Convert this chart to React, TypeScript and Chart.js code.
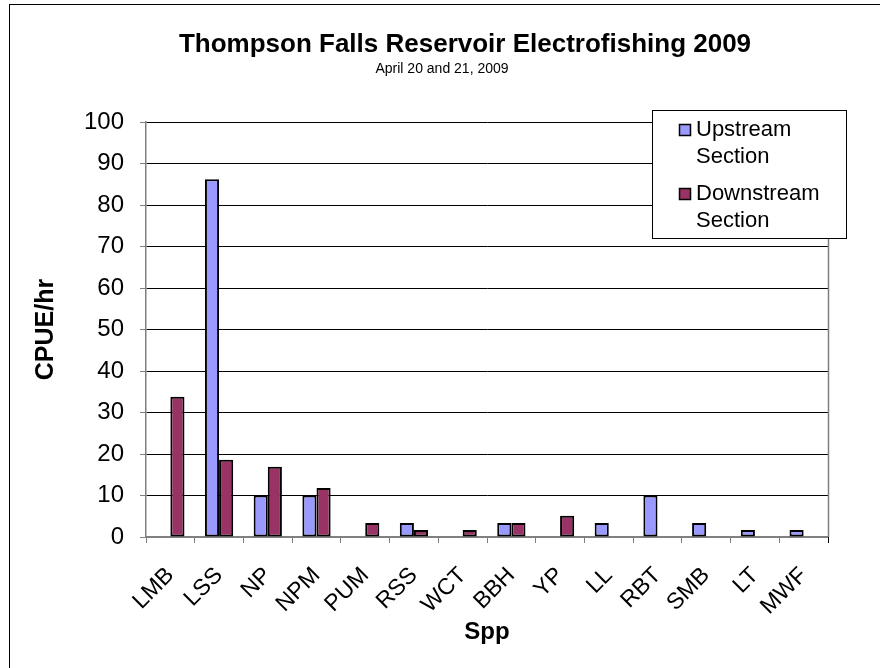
import React, { useEffect, useRef } from "react";
import { Chart, registerables } from "chart.js";

Chart.register(...registerables);

const categories = ["LMB", "LSS", "NP", "NPM", "PUM", "RSS", "WCT", "BBH", "YP", "LL", "RBT", "SMB", "LT", "MWF"];
const upstream = [0, 86.2, 10, 10, 0, 3.4, 0, 3.4, 0, 3.4, 10, 3.4, 1.7, 1.7];
const downstream = [33.8, 18.6, 16.9, 11.8, 3.4, 1.7, 1.7, 3.4, 5.1, 0, 0, 0, 0, 0];
const seriesNames = [["Upstream", "Section"], ["Downstream", "Section"]];
const titleText = "Thompson Falls Reservoir Electrofishing 2009";
const subtitleText = "April 20 and 21, 2009";
const yTitle = "CPUE/hr";
const xTitle = "Spp";

const FONT = "Arial, 'Liberation Sans', sans-serif";

const extrasPlugin = {
  id: "extras",
  afterDraw(chart: any) {
    const { ctx, chartArea } = chart;
    ctx.save();
    // titles
    ctx.fillStyle = "#000";
    ctx.textAlign = "center";
    ctx.textBaseline = "middle";
    ctx.font = "bold 26px " + FONT;
    ctx.fillText(titleText, 465, 45);
    ctx.font = "14px " + FONT;
    ctx.fillText(subtitleText, 442, 69);

    // right border of plot area
    ctx.strokeStyle = "#808080";
    ctx.lineWidth = 1.5;
    ctx.beginPath();
    ctx.moveTo(chartArea.right + 0.5, chartArea.top);
    ctx.lineTo(chartArea.right + 0.5, chartArea.bottom);
    ctx.stroke();
    ctx.strokeStyle = "#000";
    ctx.lineWidth = 1;
    ctx.beginPath();
    ctx.moveTo(chartArea.right + 0.5, chartArea.bottom);
    ctx.lineTo(chartArea.right + 0.5, chartArea.bottom + 6);
    ctx.stroke();

    // legend box
    const bx = 652, by = 110, bw = 194, bh = 128;
    ctx.fillStyle = "#fff";
    ctx.fillRect(bx, by, bw, bh);
    ctx.strokeStyle = "#000";
    ctx.lineWidth = 1;
    ctx.strokeRect(bx + 0.5, by + 0.5, bw, bh);
    ctx.font = "22px " + FONT;
    ctx.textBaseline = "middle";
    ctx.textAlign = "left";
    const itemY = [130, 194];
    chart.data.datasets.forEach((ds: any, i: number) => {
      const y0 = itemY[i];
      ctx.fillStyle = ds.backgroundColor;
      ctx.fillRect(679.5, y0 - 5.5, 11, 11);
      ctx.strokeStyle = "#000";
      ctx.lineWidth = 1.5;
      ctx.strokeRect(679.5, y0 - 5.5, 11, 11);
      ctx.fillStyle = "#000";
      const lines = seriesNames[i];
      lines.forEach((ln: string, j: number) => {
        ctx.fillText(ln, 696, y0 + j * 27);
      });
    });
    ctx.restore();
  },
};

export default function App() {
  const ref = useRef<HTMLCanvasElement>(null);
  useEffect(() => {
    if (!ref.current) return;
    const chart = new Chart(ref.current, {
      type: "bar",
      data: {
        labels: categories,
        datasets: [
          {
            label: seriesNames[0].join(" "),
            data: upstream,
            backgroundColor: "#9999FF",
            borderColor: "#000",
            borderWidth: 2,
            borderSkipped: false,
            categoryPercentage: 0.58,
            barPercentage: 1,
          },
          {
            label: seriesNames[1].join(" "),
            data: downstream,
            backgroundColor: "#993366",
            borderColor: "#000",
            borderWidth: 2,
            borderSkipped: false,
            categoryPercentage: 0.58,
            barPercentage: 1,
          },
        ],
      },
      options: {
        responsive: false,
        animation: false,
        layout: { padding: { left: 0, right: 52, top: 122, bottom: 0 } },
        plugins: {
          legend: { display: false },
          tooltip: { enabled: false },
          title: { display: false },
          subtitle: { display: false },
        },
        scales: {
          x: {
            offset: true,
            grid: {
              offset: true,
              drawOnChartArea: false,
              drawTicks: true,
              tickLength: 6,
              tickColor: "#808080",
            },
            border: { display: true, color: "#808080", width: 1.5 },
            ticks: {
              color: "#000",
              font: { family: FONT, size: 23 },
              minRotation: 45,
              maxRotation: 45,
              autoSkip: false,
              padding: 19,
            },
            title: {
              display: true,
              text: xTitle,
              color: "#000",
              font: { family: FONT, size: 24, weight: "bold" },
              padding: { top: 0, bottom: 21 },
            },
            afterFit: (s: any) => {
              s.height = 131;
            },
          },
          y: {
            min: 0,
            max: 100,
            ticks: {
              stepSize: 10,
              color: "#000",
              font: { family: FONT, size: 24 },
              padding: 16,
            },
            grid: {
              color: (c: any) => (c.tick && c.tick.value === 0 ? "#808080" : "#000"),
              lineWidth: 1,
              tickLength: 6,
              tickColor: "#808080",
            },
            border: { display: true, color: "#808080", width: 1.5 },
            title: {
              display: true,
              text: yTitle,
              color: "#000",
              font: { family: FONT, size: 25, weight: "bold" },
              padding: { top: 31, bottom: 0 },
            },
            afterFit: (s: any) => {
              s.width = 146;
            },
          },
        },
      },
      plugins: [extrasPlugin],
    });
    return () => chart.destroy();
  }, []);

  return (
    <div style={{ position: "fixed", left: 0, top: 0, width: 880, height: 668, overflow: "hidden", background: "#fff" }}>
      <div
        style={{
          position: "absolute",
          left: 9,
          top: 4,
          width: 900,
          height: 700,
          borderLeft: "1px solid #000",
          borderTop: "1px solid #000",
          boxSizing: "border-box",
        }}
      />
      <canvas ref={ref} width={880} height={668} style={{ position: "absolute", left: 0, top: 0, display: "block" }} />
    </div>
  );
}
